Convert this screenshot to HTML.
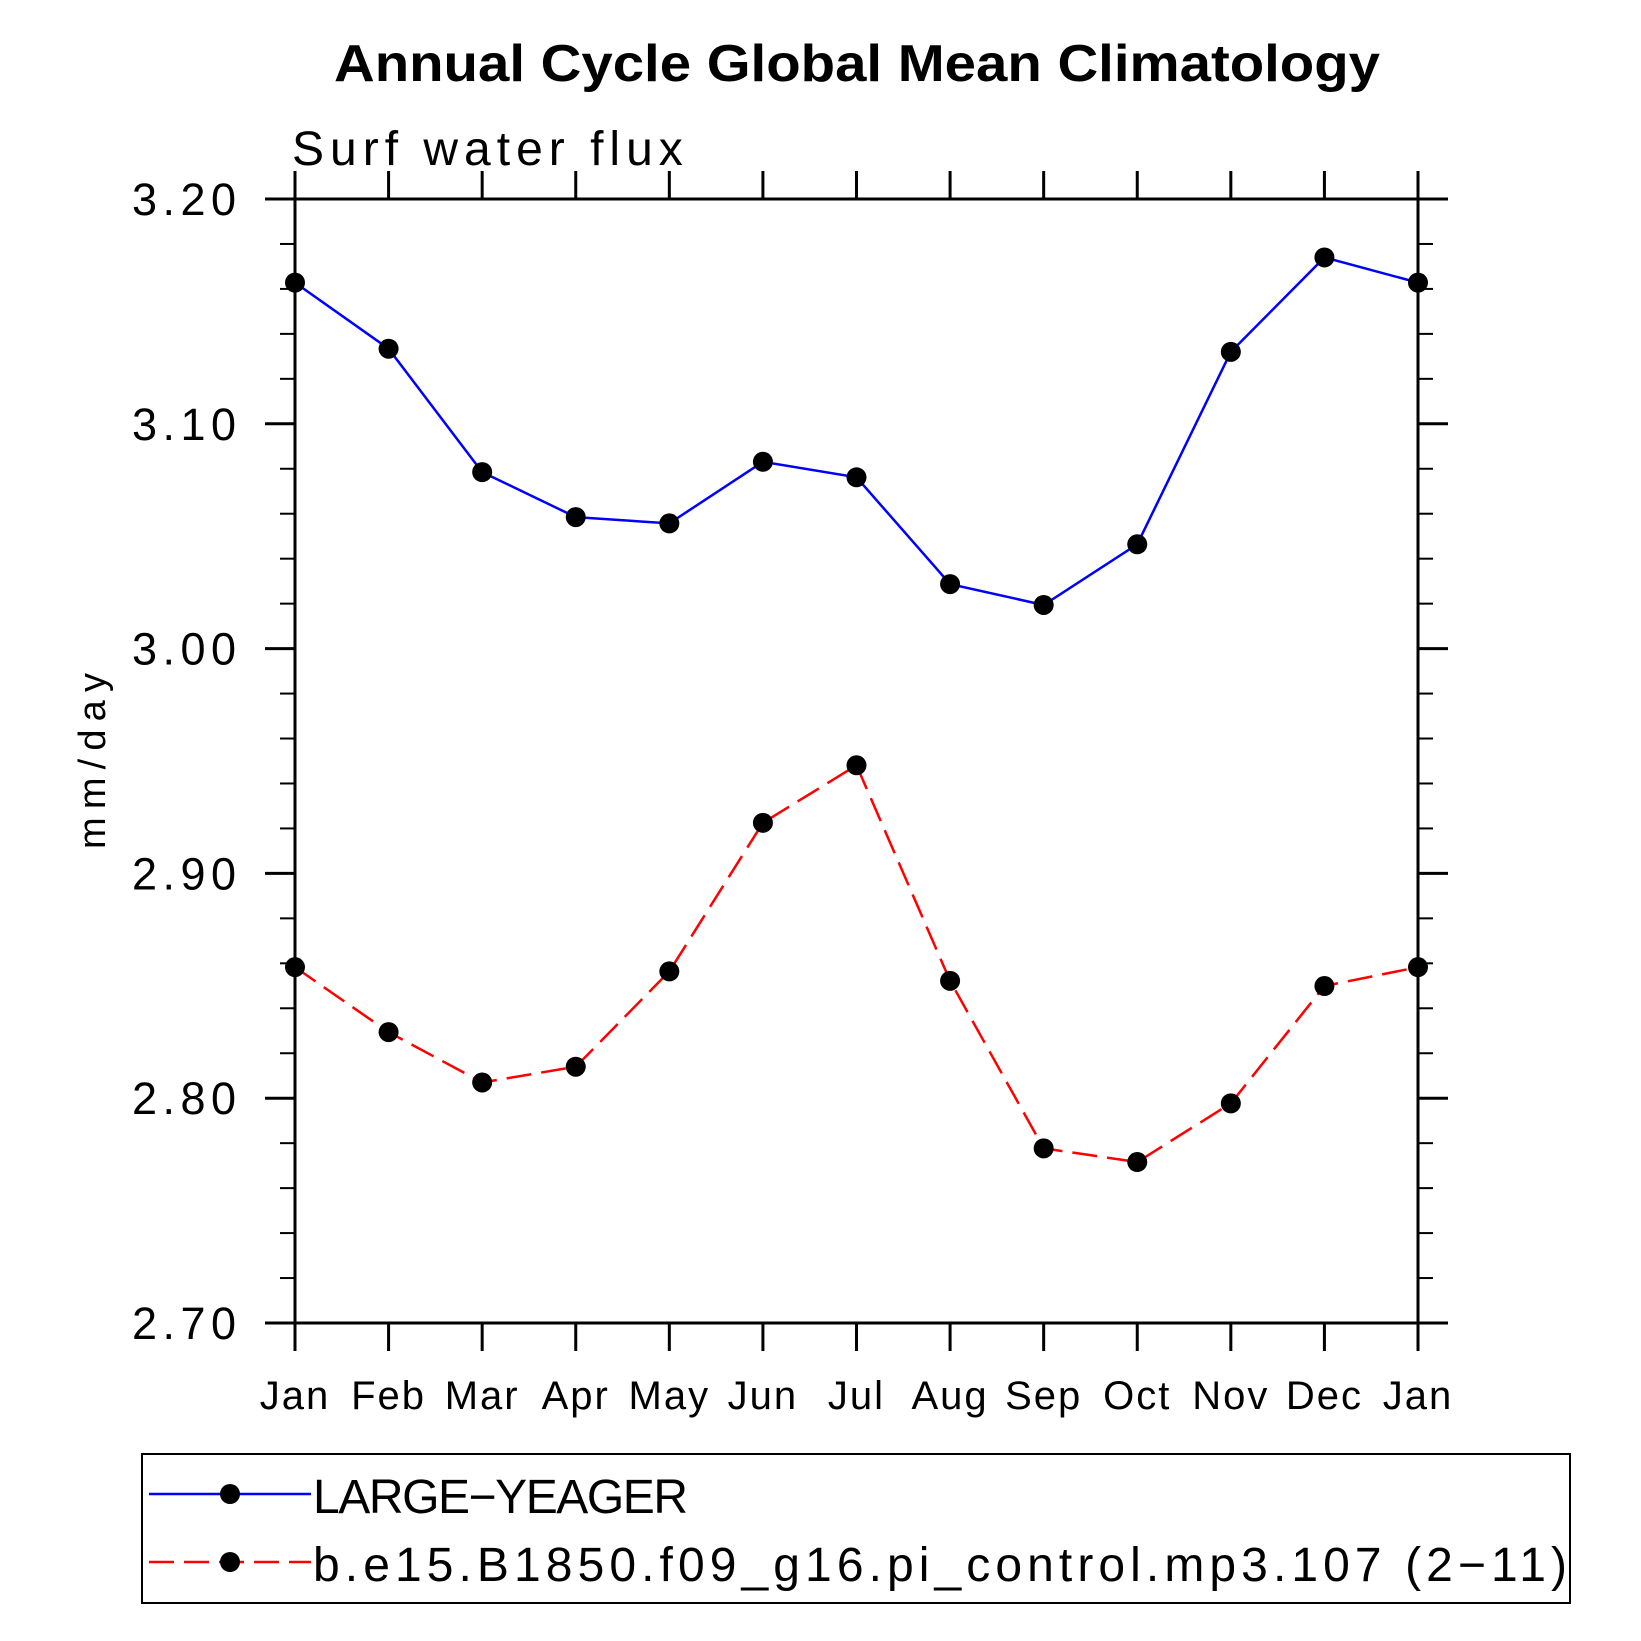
<!DOCTYPE html>
<html><head><meta charset="utf-8"><style>html,body{margin:0;padding:0;background:#fff}svg{display:block}</style></head>
<body>
<svg id="chart" width="1641" height="1641" viewBox="0 0 1641 1641" xmlns="http://www.w3.org/2000/svg" font-family="'Liberation Sans', sans-serif">
<text x="857" y="81" text-anchor="middle" font-weight="bold" font-size="52" textLength="1046" lengthAdjust="spacingAndGlyphs">Annual Cycle Global Mean Climatology</text>
<text x="292" y="165" font-size="48" letter-spacing="6">Surf  water  flux</text>
<text transform="translate(105,761) rotate(-90)" text-anchor="middle" font-size="38" textLength="176" lengthAdjust="spacing">mm/day</text>
<g id="axes"></g>
<g id="series"></g>
<rect x="142" y="1454" width="1428" height="149" fill="none" stroke="#000" stroke-width="2"/>
<g>
<line x1="149" y1="1494" x2="311" y2="1494" stroke="#00f" stroke-width="2.5"/>
<circle cx="230" cy="1494" r="10"/>
<text x="313" y="1513" font-size="48" textLength="375" lengthAdjust="spacing">LARGE−YEAGER</text>
</g>
<g>
<line x1="149" y1="1562" x2="311" y2="1562" stroke="#f00" stroke-width="2.5" stroke-dasharray="25,10"/>
<circle cx="230" cy="1562" r="10"/>
<text x="313" y="1581" font-size="48" textLength="1254" lengthAdjust="spacing">b.e15.B1850.f09_g16.pi_control.mp3.107 (2−11)</text>
</g>
</svg>
<script>
const months = ["Jan","Feb","Mar","Apr","May","Jun","Jul","Aug","Sep","Oct","Nov","Dec","Jan"];
const largeYeager = [3.1628,3.1334,3.0785,3.0585,3.0557,3.0831,3.0762,3.0287,3.0194,3.0464,3.132,3.174,3.1628];
const control = [2.8583,2.8294,2.807,2.814,2.8564,2.9225,2.9481,2.8522,2.7777,2.7716,2.7977,2.8499,2.8583];
const yTicks = [2.70,2.80,2.90,3.00,3.10,3.20];
const yTickLabels = ["2.70","2.80","2.90","3.00","3.10","3.20"];
const yMin = 2.70, yMax = 3.20, yMinorStep = 0.02;

const NS = "http://www.w3.org/2000/svg";
const L = 295, R = 1418, T = 199, B = 1323;
const xs = i => L + (R - L) * i / (months.length - 1);
const ys = v => B - (v - yMin) / (yMax - yMin) * (B - T);
function mk(tag, attrs, parent) {
  const e = document.createElementNS(NS, tag);
  for (const k in attrs) e.setAttribute(k, attrs[k]);
  parent.appendChild(e);
  return e;
}
const ax = document.getElementById("axes");
const sw = 3;
let f = mk("rect", {x:L, y:T, width:R-L, height:B-T, fill:"none", stroke:"#000", "stroke-width":sw}, ax);


mk("line", {x1:L-30, y1:T, x2:R+30, y2:T, stroke:"#000", "stroke-width":sw}, ax);
mk("line", {x1:L-30, y1:B, x2:R+30, y2:B, stroke:"#000", "stroke-width":sw}, ax);
months.forEach((m, i) => {
  const x = xs(i);
  mk("line", {x1:x, y1:B, x2:x, y2:B+28, stroke:"#000", "stroke-width":sw}, ax);
  mk("line", {x1:x, y1:T, x2:x, y2:T-28, stroke:"#000", "stroke-width":sw}, ax);
  const t = mk("text", {x:x, y:1409, "text-anchor":"middle", "font-size":"40", "letter-spacing":"2"}, ax);
  t.textContent = m;
  
  
});
for (let v = yMin; v <= yMax + 1e-9; v += yMinorStep) {
  const y = ys(v);
  mk("line", {x1:L-15, y1:y, x2:L, y2:y, stroke:"#000", "stroke-width":2}, ax);
  mk("line", {x1:R, y1:y, x2:R+15, y2:y, stroke:"#000", "stroke-width":2}, ax);
}
yTicks.forEach((v, i) => {
  const y = ys(v);
  mk("line", {x1:L-30, y1:y, x2:L, y2:y, stroke:"#000", "stroke-width":sw}, ax);
  mk("line", {x1:R, y1:y, x2:R+30, y2:y, stroke:"#000", "stroke-width":sw}, ax);
  const t = mk("text", {x:236, y:y+16, "text-anchor":"end", "font-size":"45", textLength:"104", lengthAdjust:"spacing"}, ax);
  t.textContent = yTickLabels[i];
  
  
});
const sg = document.getElementById("series");
function drawSeries(vals, color, dash, name) {
  const g = mk("g", {}, sg);
  
  
  const pts = vals.map((v, i) => xs(i) + "," + ys(v)).join(" ");
  const attrs = {points:pts, fill:"none", stroke:color, "stroke-width":2.5};
  if (dash) attrs["stroke-dasharray"] = dash;
  mk("polyline", attrs, g);
  vals.forEach((v, i) => {
    const c = mk("circle", {cx:xs(i), cy:ys(v), r:10, fill:"#000"}, g);
    
    
  });
}
drawSeries(largeYeager, "#00f", null, "series-large-yeager");
drawSeries(control, "#f00", "25,10", "series-control");
</script>
</body></html>
